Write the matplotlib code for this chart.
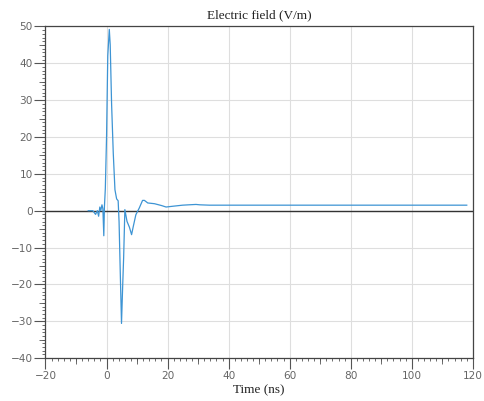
import matplotlib
matplotlib.use("Agg")
import matplotlib.pyplot as plt
from matplotlib.ticker import MultipleLocator

# Electric field waveform (time in ns, field in V/m)
time_ns = [-6.0, -4.5, -3.6, -3.0, -2.6, -2.2, -1.9, -1.5, -1.2, -0.9, -0.7,
           -0.4, 0.0, 0.4, 0.9, 1.2, 1.65, 2.2, 2.75, 3.3, 3.8, 4.1, 4.5,
           4.9, 5.3, 5.6, 6.0, 6.7, 7.5, 8.2, 8.75, 9.6, 10.7, 11.8, 12.4,
           13.5, 15.7, 18.0, 19.5, 21.6, 24.9, 27.0, 29.3, 30.5, 33.7, 60.0,
           90.0, 118.0]
field_vm = [0.0, 0.0, -1.0, 0.0, -1.5, 1.0, 0.0, 1.6, 0.5, -6.8, 1.0,
            6.0, 20.0, 42.0, 49.2, 45.0, 29.0, 15.6, 5.7, 3.2, 2.7, -3.0, -17.0,
            -30.6, -20.0, -12.7, 0.3, -2.9, -4.5, -6.5, -4.3, -1.1, 0.7, 2.8, 2.8,
            2.1, 1.9, 1.4, 1.0, 1.2, 1.5, 1.6, 1.7, 1.6, 1.5, 1.5,
            1.5, 1.5]

x_range = (-20, 120)
y_range = (-40, 50)

fig = plt.figure(figsize=(4.84, 4.01), dpi=100)
ax = fig.add_axes([0.094, 0.107, 0.883, 0.827])

ax.set_xlim(*x_range)
ax.set_ylim(*y_range)

ax.grid(True, which="major", color="#dedede", linewidth=0.8)
ax.set_axisbelow(True)
ax.axhline(0, color="#333333", linewidth=1.0, zorder=2)
ax.plot(time_ns, field_vm, color="#3d94d4", linewidth=0.9, zorder=3)

ax.xaxis.set_major_locator(MultipleLocator(20))
ax.xaxis.set_minor_locator(MultipleLocator(2))
ax.yaxis.set_major_locator(MultipleLocator(10))
ax.yaxis.set_minor_locator(MultipleLocator(1))

tick_color = "#555555"
ax.tick_params(which="major", direction="out", length=8, width=0.8,
               color=tick_color, labelsize=7.6, labelcolor="#666666", pad=1)
ax.tick_params(which="minor", direction="out", length=2.5, width=0.6,
               color=tick_color)

# medium ticks every 10 ns / every 5 V/m
sec_x = ax.secondary_xaxis("bottom")
sec_x.set_xticks(list(range(-10, 121, 20)))
sec_x.tick_params(direction="out", length=4.5, width=0.6, color=tick_color,
                  labelbottom=False)
sec_x.spines["bottom"].set_visible(False)
sec_y = ax.secondary_yaxis("left")
sec_y.set_yticks(list(range(-35, 50, 10)))
sec_y.tick_params(direction="out", length=4.5, width=0.6, color=tick_color,
                  labelleft=False)
sec_y.spines["left"].set_visible(False)

for side in ("left", "bottom", "top", "right"):
    ax.spines[side].set_color("#444444")
    ax.spines[side].set_linewidth(0.9)

for lbl in ax.get_xticklabels() + ax.get_yticklabels():
    lbl.set_family("DejaVu Sans")

serif = ["Liberation Serif", "DejaVu Serif"]
ax.set_title("Electric field (V/m)", fontsize=9.5, family=serif,
             color="#222222", pad=6)
ax.set_xlabel("Time (ns)", fontsize=9.5, family=serif, color="#222222",
              labelpad=2.5)

fig.savefig("out.png", dpi=100)
